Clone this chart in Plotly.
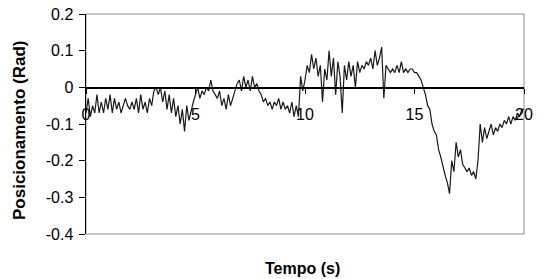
import plotly.graph_objects as go

# Time axis (s), sampled every 0.1 s from 0 to 20
t_start = 0.0
t_step = 0.1

# Position (rad), 10 samples per second
pos_0_5 = [
    -0.07, -0.03, -0.08, -0.05, -0.07, -0.02, -0.07, -0.04, -0.07, -0.03,
    -0.06, -0.02, -0.07, -0.03, -0.06, -0.04, -0.07, -0.05, -0.03, -0.05,
    -0.06, -0.04, -0.06, -0.03, -0.07, -0.02, -0.06, -0.04, -0.07, -0.03,
    -0.05, -0.01, 0.00, -0.02, 0.00, -0.04, -0.01, -0.06, -0.02, -0.07,
    -0.03, -0.08, -0.05, -0.10, -0.06, -0.12, -0.05, -0.09, -0.06, -0.04,
]
pos_5_10 = [
    -0.02, 0.00, -0.03, -0.01, -0.02, 0.00, -0.01, 0.02, -0.01, -0.02,
    -0.03, -0.01, -0.05, -0.03, -0.06, -0.02, -0.05, -0.03, -0.01, 0.01,
    0.02, -0.01, 0.03, 0.00, 0.02, -0.01, 0.03, 0.00, 0.01, -0.01,
    -0.02, -0.04, -0.03, -0.05, -0.04, -0.06, -0.04, -0.05, -0.03, -0.06,
    -0.04, -0.06, -0.05, -0.07, -0.04, -0.08, -0.05, -0.08, 0.03, -0.01,
]
pos_10_15 = [
    0.02, 0.06, 0.04, 0.09, 0.05, 0.08, 0.03, 0.06, -0.04, 0.05,
    0.02, 0.10, 0.03, 0.08, -0.02, 0.07, 0.03, -0.07, 0.06, 0.02,
    0.07, 0.03, 0.06, 0.00, 0.07, 0.04, 0.06, 0.05, 0.07, 0.06,
    0.08, 0.05, 0.10, 0.06, 0.08, 0.11, -0.03, 0.06, 0.05, 0.04,
    0.05, 0.04, 0.06, 0.04, 0.07, 0.04, 0.05, 0.04, 0.05, 0.05,
]
pos_15_20 = [
    0.04, 0.04, 0.03, 0.02, 0.00, -0.02, -0.05, -0.06, -0.10, -0.12,
    -0.13, -0.17, -0.19, -0.22, -0.24, -0.26, -0.29, -0.20, -0.23, -0.15,
    -0.19, -0.17, -0.21, -0.22, -0.23, -0.22, -0.24, -0.23, -0.25, -0.20,
    -0.10, -0.15, -0.11, -0.14, -0.12, -0.10, -0.13, -0.11, -0.12, -0.10,
    -0.11, -0.09, -0.10, -0.08, -0.10, -0.08, -0.09, -0.07, -0.08, -0.06,
    -0.06,
]

position = pos_0_5 + pos_5_10 + pos_10_15 + pos_15_20
time = [round(t_start + i * t_step, 2) for i in range(len(position))]

x_ticks = [0, 5, 10, 15, 20]
y_ticks = [0.2, 0.1, 0, -0.1, -0.2, -0.3, -0.4]
y_tick_labels = ["0.2", "0.1", "0", "-0.1", "-0.2", "-0.3", "-0.4"]

x_title = "Tempo (s)"
y_title = "Posicionamento (Rad)"

FONT = "Liberation Sans, Arial, sans-serif"

fig = go.Figure()
fig.add_trace(go.Scatter(
    x=time, y=position, mode="lines",
    line=dict(color="#1a1a1a", width=1.2),
    showlegend=False, hoverinfo="skip",
))

fig.update_layout(
    width=539, height=279,
    margin=dict(l=86, r=15, t=14, b=45, autoexpand=False),
    paper_bgcolor="white", plot_bgcolor="white",
    font=dict(family=FONT, size=16, color="black"),
    xaxis=dict(
        range=[0, 20], tickvals=x_ticks, ticktext=[str(v) for v in x_ticks],
        anchor="free", position=2 / 3, automargin=False,
        showline=True, linecolor="black", linewidth=1.5,
        ticks="outside", ticklen=5, tickcolor="black", tickwidth=1,
        showgrid=False, zeroline=False,
        tickfont=dict(family=FONT, size=16),
        ticklabelstandoff=7,
    ),
    yaxis=dict(
        range=[-0.4, 0.2], tickvals=y_ticks, ticktext=y_tick_labels,
        automargin=False,
        showline=True, linecolor="black", linewidth=1.5,
        ticks="outside", ticklen=6, tickcolor="black", tickwidth=1,
        showgrid=False, zeroline=False,
        tickfont=dict(family=FONT, size=16),
        ticklabelstandoff=2,
    ),
    shapes=[dict(
        type="rect", xref="paper", yref="paper", x0=0, y0=0, x1=1, y1=1,
        line=dict(color="#8c8c8c", width=1), layer="below",
    )],
    annotations=[
        dict(text="<b>" + x_title + "</b>", xref="paper", yref="paper",
             x=0.495, y=-0.155, xanchor="center", yanchor="middle",
             showarrow=False, font=dict(family=FONT, size=16)),
        dict(text="<b>" + y_title + "</b>", xref="paper", yref="paper",
             x=-0.152, y=0.47, xanchor="center", yanchor="middle", textangle=-90,
             showarrow=False, font=dict(family=FONT, size=17)),
    ],
)

fig.write_html(
    "out.html",
    config={"displayModeBar": False, "staticPlot": True},
    post_script="document.body.style.margin='0';document.body.style.overflow='hidden';",
)
